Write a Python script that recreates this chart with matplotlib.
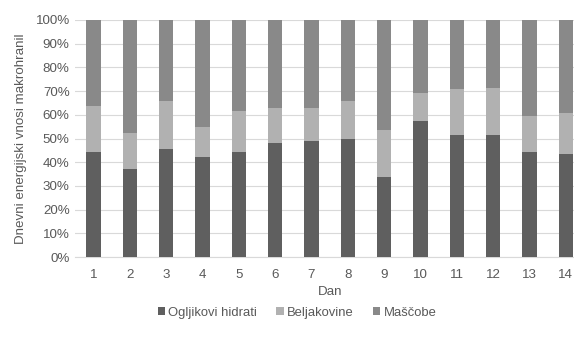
import matplotlib
matplotlib.use("Agg")
import matplotlib.pyplot as plt
from matplotlib.ticker import PercentFormatter
import numpy as np

plt.rcParams['font.family'] = ['Liberation Sans', 'DejaVu Sans']

days = [str(d) for d in range(1, 15)]
ogljikovi_hidrati = [44.4, 37.0, 45.4, 42.2, 44.4, 48.0, 48.8, 49.9, 33.8, 57.5, 51.6, 51.5, 44.4, 43.3]
beljakovine = [19.3, 15.5, 20.4, 12.7, 17.2, 15.0, 14.2, 16.1, 19.9, 11.7, 19.1, 19.9, 15.1, 17.3]
mascobe = [100 - a - b for a, b in zip(ogljikovi_hidrati, beljakovine)]

series_names = ['Ogljikovi hidrati', 'Beljakovine', 'Maščobe']
colors = ['#5f5f5f', '#b1b1b1', '#898989']
text_color = '#595959'
fs = 9.6

fig = plt.figure(figsize=(5.74, 3.37), dpi=100)
ax = fig.add_axes([75.3 / 574, 1 - 257 / 337, (584 - 75.3) / 574, 237 / 337])

x = np.arange(len(days))
bottom = np.zeros(len(days))
for name, vals, col in zip(series_names, [ogljikovi_hidrati, beljakovine, mascobe], colors):
    ax.bar(x, vals, width=0.4, bottom=bottom, color=col, label=name, zorder=3)
    bottom += np.array(vals)

ax.set_xlim(-0.5, len(days) - 0.5)
ax.set_ylim(0, 100)
ax.set_yticks(np.arange(0, 101, 10))
ax.yaxis.set_major_formatter(PercentFormatter(decimals=0))
ax.set_xticks(x)
ax.set_xticklabels(days)
ax.grid(axis='y', color='#d9d9d9', linewidth=0.8, zorder=0)
for side in ['top', 'right', 'left']:
    ax.spines[side].set_visible(False)
ax.spines['bottom'].set_color('#d9d9d9')
ax.spines['bottom'].set_linewidth(0.8)
ax.tick_params(axis='both', length=0, colors=text_color, labelsize=fs)
ax.tick_params(axis='x', pad=9)
ax.tick_params(axis='y', pad=4)

ax.set_xlabel('Dan', color=text_color, fontsize=fs, labelpad=3)
ax.set_ylabel('Dnevni energijski vnosi makrohranil', color=text_color, fontsize=fs, labelpad=6)

leg = fig.legend(loc='center', bbox_to_anchor=(297 / 574, 1 - 313 / 337), ncol=3, frameon=False,
                 fontsize=9.4, handlelength=0.55, handleheight=0.55, handletextpad=0.25,
                 columnspacing=1.5, labelcolor=text_color)

fig.savefig('out.png', dpi=100)
